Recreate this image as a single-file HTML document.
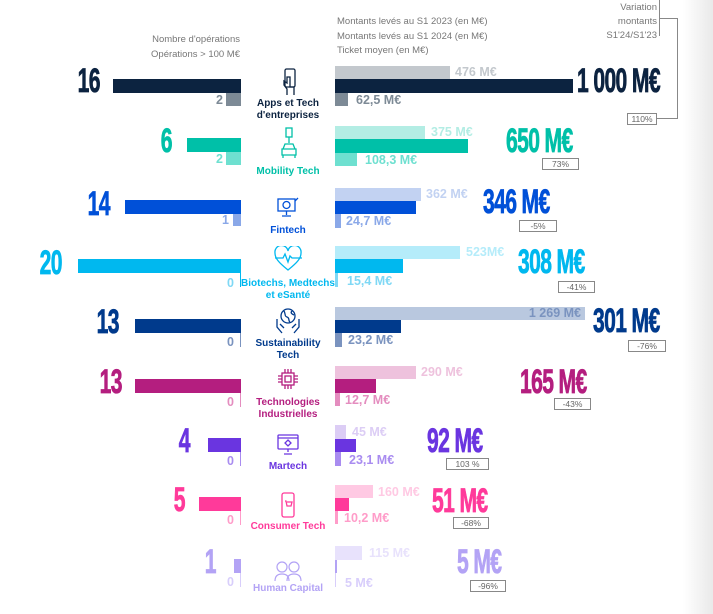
<!DOCTYPE html>
<html><head><meta charset="utf-8"><style>
body{margin:0;width:713px;height:614px;position:relative;overflow:hidden;background:#fff;font-family:"Liberation Sans",sans-serif}
div{position:absolute}
.g{background:linear-gradient(90deg,#fff,#e9e9e9);left:683px;top:0;width:30px;height:614px}
.h{font-size:9.5px;color:#777;line-height:14.5px}
.bn{font-weight:bold;font-size:34px;line-height:30px;transform:scaleX(.62);white-space:nowrap;letter-spacing:-1px;-webkit-text-stroke:0.8px currentColor}
.bl{transform-origin:right top}
.br{transform-origin:left top}
.sm{font-weight:bold;font-size:12.5px;line-height:13px;white-space:nowrap}
.lab{font-weight:bold;font-size:10px;line-height:11.5px;text-align:center;width:110px;left:233px}
.box{border:1.3px solid #888;font-size:8.5px;color:#666;text-align:center;line-height:10px;height:10px;background:#fff}
</style></head><body>
<div class="g"></div>
<div class="h" style="right:473px;top:33px;text-align:right">Nombre d'opérations<br>Opérations &gt; 100 M€</div>
<div class="h" style="left:337px;top:15px">Montants levés au S1 2023 (en M€)<br>Montants levés au S1 2024 (en M€)<br>Ticket moyen (en M€)</div>
<div class="h" style="right:56px;top:1px;text-align:right;line-height:14px">Variation<br>montants<br>S1'24/S1'23</div>
<div style="left:659px;top:0;width:1px;height:36px;background:#888"></div>
<div style="left:660px;top:18px;width:17px;height:1px;background:#888"></div>
<div style="left:677px;top:18px;width:1px;height:101px;background:#888"></div>
<div style="left:655px;top:118px;width:23px;height:1px;background:#888"></div>

<div class="bn bl" style="right:613px;top:66px;color:#0c2340">16</div>
<div style="left:113px;top:79px;width:128px;height:14px;background:#0c2340"></div>
<div style="left:226px;top:93px;width:15px;height:13px;background:#7d8a96"></div>
<div class="sm" style="right:490px;top:94px;color:#7d8a96">2</div>
<svg style="position:absolute;left:279px;top:68px" width="20" height="28" viewBox="0 0 20 28" fill="none" stroke="#0c2340" stroke-width="1.3"><rect x="6" y="1" width="10" height="18" rx="1.5"/><path d="M8 27v-6l-3-4v-4l3 2v-6h3v10h4v8"/></svg>
<div class="lab" style="top:98px;color:#0c2340">Apps et Tech<br>d'entreprises</div>
<div style="left:335px;top:66px;width:115px;height:13px;background:#c3c8cd"></div>
<div class="sm" style="left:455px;top:66px;color:#c3c8cd">476 M€</div>
<div style="left:335px;top:79px;width:238px;height:14px;background:#0c2340"></div>
<div style="left:335px;top:93px;width:13px;height:13px;background:#7d8a96"></div>
<div class="sm" style="left:356px;top:94px;color:#7d8a96">62,5 M€</div>
<div class="bn br" style="left:577px;top:66px;color:#0c2340">1 000 M€</div>
<div class="box" style="left:627px;top:113px;width:28px">110%</div>

<div class="bn bl" style="right:541px;top:126px;color:#00c0a8">6</div>
<div style="left:187px;top:138px;width:54px;height:14px;background:#00c0a8"></div>
<div style="left:226px;top:152px;width:15px;height:13px;background:#6ee0d0"></div>
<div class="sm" style="right:490px;top:153px;color:#6ee0d0">2</div>
<svg style="position:absolute;left:279px;top:127px" width="20" height="32" viewBox="0 0 20 32" fill="none" stroke="#00c0a8" stroke-width="1.3"><rect x="7" y="1" width="6" height="9"/><path d="M10 10v6M4 22l2-5h8l2 5M3 22h14v6H3z M4 28v3M16 28v3"/></svg>
<div class="lab" style="top:166px;color:#00c0a8">Mobility Tech</div>
<div style="left:335px;top:126px;width:90px;height:13px;background:#b3ede4"></div>
<div class="sm" style="left:431px;top:126px;color:#b3ede4">375 M€</div>
<div style="left:335px;top:139px;width:133px;height:14px;background:#00c0a8"></div>
<div style="left:335px;top:153px;width:22px;height:13px;background:#6ee0d0"></div>
<div class="sm" style="left:365px;top:154px;color:#6ee0d0">108,3 M€</div>
<div class="bn br" style="left:506px;top:126px;color:#00c0a8">650 M€</div>
<div class="box" style="left:542px;top:158px;width:35px">73%</div>

<div class="bn bl" style="right:603px;top:189px;color:#0050d8">14</div>
<div style="left:125px;top:200px;width:116px;height:14px;background:#0050d8"></div>
<div style="left:233px;top:214px;width:8px;height:12px;background:#8aa8e8"></div>
<div class="sm" style="right:484px;top:214px;color:#8aa8e8">1</div>
<svg style="position:absolute;left:276px;top:196px" width="24" height="22" viewBox="0 0 24 22" fill="none" stroke="#0050d8" stroke-width="1.3"><rect x="2" y="3" width="17" height="12"/><circle cx="10.5" cy="9" r="3.5"/><path d="M10.5 15v4M6 20h9M19 5l3-3"/></svg>
<div class="lab" style="top:225px;color:#0050d8">Fintech</div>
<div style="left:335px;top:188px;width:86px;height:13px;background:#c2d2f2"></div>
<div class="sm" style="left:426px;top:188px;color:#c2d2f2">362 M€</div>
<div style="left:335px;top:201px;width:81px;height:13px;background:#0050d8"></div>
<div style="left:335px;top:214px;width:6px;height:14px;background:#8aa8e8"></div>
<div class="sm" style="left:346px;top:215px;color:#8aa8e8">24,7 M€</div>
<div class="bn br" style="left:483px;top:187px;color:#0050d8">346 M€</div>
<div class="box" style="left:519px;top:220px;width:36px">-5%</div>

<div class="bn bl" style="right:651px;top:248px;color:#00b8ef">20</div>
<div style="left:78px;top:259px;width:163px;height:14px;background:#00b8ef"></div>
<div style="left:240px;top:273px;width:1px;height:14px;background:#00b8ef"></div>
<div class="sm" style="right:479px;top:277px;color:#7fd8f5">0</div>
<svg style="position:absolute;left:274px;top:246px" width="28" height="26" viewBox="0 0 28 26" fill="none" stroke="#00b8ef" stroke-width="1.3"><path d="M14 24C4 16 1 12 1 7a6 6 0 0 1 13-2 6 6 0 0 1 13 2c0 5-3 9-13 17z"/><path d="M1 12h8l2-4 3 8 2-6 2 2h10"/></svg>
<div class="lab" style="top:278px;color:#00b8ef">Biotechs, Medtechs<br>et eSanté</div>
<div style="left:335px;top:246px;width:125px;height:13px;background:#b5ecfa"></div>
<div class="sm" style="left:466px;top:246px;color:#b5ecfa">523M€</div>
<div style="left:335px;top:259px;width:68px;height:14px;background:#00b8ef"></div>
<div style="left:335px;top:273px;width:3px;height:14px;background:#7fd8f5"></div>
<div class="sm" style="left:347px;top:275px;color:#7fd8f5">15,4 M€</div>
<div class="bn br" style="left:518px;top:247px;color:#00b8ef">308 M€</div>
<div class="box" style="left:558px;top:281px;width:35px">-41%</div>

<div class="bn bl" style="right:594px;top:307px;color:#003a8c">13</div>
<div style="left:135px;top:319px;width:106px;height:14px;background:#003a8c"></div>
<div style="left:240px;top:333px;width:1px;height:14px;background:#7a93bf"></div>
<div class="sm" style="right:479px;top:336px;color:#7a93bf">0</div>
<svg style="position:absolute;left:276px;top:307px" width="24" height="28" viewBox="0 0 24 28" fill="none" stroke="#003a8c" stroke-width="1.3"><circle cx="12" cy="9" r="7"/><path d="M8 4c2 3 0 5 3 6s1 4 3 5M16 4c-2 2 0 3 2 4"/><path d="M1 12v8l5 6M23 12v8l-5 6M4 17l4 4M20 17l-4 4"/></svg>
<div class="lab" style="top:338px;color:#003a8c">Sustainability<br>Tech</div>
<div style="left:335px;top:307px;width:250px;height:13px;background:#b9c8df"></div>
<div class="sm" style="right:132px;top:307px;color:#7a93bf">1 269 M€</div>
<div style="left:335px;top:320px;width:66px;height:13px;background:#003a8c"></div>
<div style="left:335px;top:333px;width:7px;height:14px;background:#7a93bf"></div>
<div class="sm" style="left:348px;top:334px;color:#7a93bf">23,2 M€</div>
<div class="bn br" style="left:593px;top:306px;color:#003a8c">301 M€</div>
<div class="box" style="left:628px;top:340px;width:36px">-76%</div>

<div class="bn bl" style="right:591px;top:367px;color:#b41e7f">13</div>
<div style="left:135px;top:379px;width:106px;height:14px;background:#b41e7f"></div>
<div style="left:240px;top:393px;width:1px;height:14px;background:#e48dbf"></div>
<div class="sm" style="right:479px;top:396px;color:#e48dbf">0</div>
<svg style="position:absolute;left:277px;top:368px" width="22" height="22" viewBox="0 0 22 22" fill="none" stroke="#b41e7f" stroke-width="1.3"><rect x="5" y="5" width="12" height="12"/><rect x="8" y="8" width="6" height="6"/><path d="M8 1v4M11 1v4M14 1v4M8 17v4M11 17v4M14 17v4M1 8h4M1 11h4M1 14h4M17 8h4M17 11h4M17 14h4"/></svg>
<div class="lab" style="top:397px;color:#b41e7f">Technologies<br>Industrielles</div>
<div style="left:335px;top:366px;width:81px;height:13px;background:#eec2dd"></div>
<div class="sm" style="left:421px;top:366px;color:#eec2dd">290 M€</div>
<div style="left:335px;top:379px;width:41px;height:14px;background:#b41e7f"></div>
<div style="left:335px;top:393px;width:5px;height:13px;background:#e48dbf"></div>
<div class="sm" style="left:345px;top:394px;color:#e48dbf">12,7 M€</div>
<div class="bn br" style="left:520px;top:367px;color:#b41e7f">165 M€</div>
<div class="box" style="left:554px;top:398px;width:35px">-43%</div>

<div class="bn bl" style="right:523px;top:426px;color:#6a35e0">4</div>
<div style="left:208px;top:438px;width:33px;height:14px;background:#6a35e0"></div>
<div style="left:240px;top:452px;width:1px;height:14px;background:#a98cf0"></div>
<div class="sm" style="right:479px;top:455px;color:#a98cf0">0</div>
<svg style="position:absolute;left:277px;top:434px" width="22" height="22" viewBox="0 0 22 22" fill="none" stroke="#6a35e0" stroke-width="1.3"><rect x="1" y="1" width="20" height="14" rx="1"/><path d="M1 4h20M11 15v3M7 20h8"/><path d="M11 6l3 3-3 3-3-3z"/></svg>
<div class="lab" style="top:461px;color:#6a35e0">Martech</div>
<div style="left:335px;top:425px;width:11px;height:14px;background:#dccdf5"></div>
<div class="sm" style="left:352px;top:426px;color:#dccdf5">45 M€</div>
<div style="left:335px;top:439px;width:21px;height:13px;background:#6a35e0"></div>
<div style="left:335px;top:452px;width:6px;height:14px;background:#a98cf0"></div>
<div class="sm" style="left:349px;top:454px;color:#a98cf0">23,1 M€</div>
<div class="bn br" style="left:427px;top:426px;color:#6a35e0">92 M€</div>
<div class="box" style="left:446px;top:458px;width:41px">103 %</div>

<div class="bn bl" style="right:528px;top:485px;color:#ff3a9a">5</div>
<div style="left:199px;top:497px;width:42px;height:14px;background:#ff3a9a"></div>
<div style="left:240px;top:511px;width:1px;height:14px;background:#ff9cc9"></div>
<div class="sm" style="right:479px;top:514px;color:#ff9cc9">0</div>
<svg style="position:absolute;left:281px;top:492px" width="14" height="26" viewBox="0 0 14 26" fill="none" stroke="#ff3a9a" stroke-width="1.3"><rect x="1" y="1" width="12" height="24" rx="2"/><path d="M4 9h1l1 5h4l1-4H6"/></svg>
<div class="lab" style="top:521px;color:#ff3a9a">Consumer Tech</div>
<div style="left:335px;top:485px;width:38px;height:13px;background:#ffc9e3"></div>
<div class="sm" style="left:378px;top:486px;color:#ffc9e3">160 M€</div>
<div style="left:335px;top:498px;width:14px;height:13px;background:#ff3a9a"></div>
<div style="left:335px;top:511px;width:3px;height:13px;background:#ff9cc9"></div>
<div class="sm" style="left:344px;top:512px;color:#ff9cc9">10,2 M€</div>
<div class="bn br" style="left:432px;top:486px;color:#ff3a9a">51 M€</div>
<div class="box" style="left:453px;top:517px;width:34px">-68%</div>

<div class="bn bl" style="right:497px;top:547px;color:#b3a3f5">1</div>
<div style="left:234px;top:559px;width:7px;height:14px;background:#b3a3f5"></div>
<div style="left:240px;top:573px;width:1px;height:14px;background:#d8cefb"></div>
<div class="sm" style="right:479px;top:576px;color:#d8cefb">0</div>
<svg style="position:absolute;left:274px;top:560px" width="28" height="22" viewBox="0 0 28 22" fill="none" stroke="#b3a3f5" stroke-width="1.2"><circle cx="8" cy="7" r="5"/><circle cx="20" cy="7" r="5"/><path d="M1 21c0-5 3-7 7-7s7 2 7 7M13 21c0-5 3-7 7-7s7 2 7 7"/></svg>
<div class="lab" style="top:583px;color:#b3a3f5">Human Capital</div>
<div style="left:335px;top:546px;width:27px;height:14px;background:#e8e2fc"></div>
<div class="sm" style="left:369px;top:547px;color:#e8e2fc">115 M€</div>
<div style="left:335px;top:560px;width:2px;height:13px;background:#b3a3f5"></div>
<div style="left:335px;top:573px;width:1px;height:14px;background:#d8cefb"></div>
<div class="sm" style="left:345px;top:577px;color:#d8cefb">5 M€</div>
<div class="bn br" style="left:457px;top:547px;color:#b3a3f5">5 M€</div>
<div class="box" style="left:470px;top:580px;width:34px">-96%</div>
</body></html>
